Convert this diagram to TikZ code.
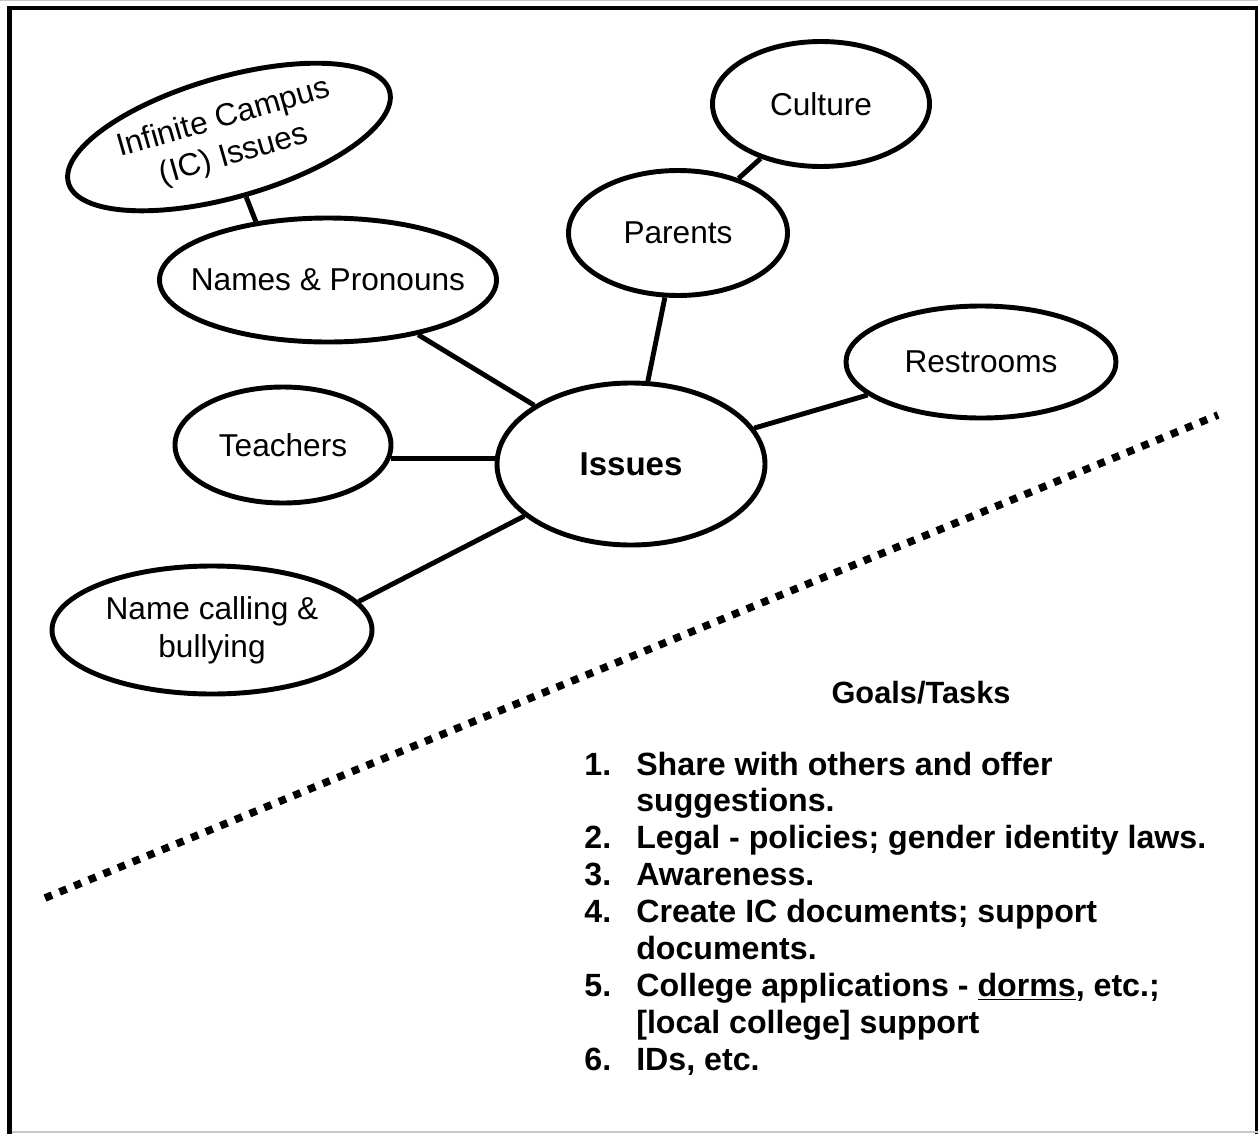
\documentclass[tikz,border=0pt]{standalone}
\usepackage{fontspec}
\setmainfont{Liberation Sans}
\usepackage{tikz}
\usetikzlibrary{shapes.geometric,positioning}
\tikzset{
	bubble/.style={draw,ellipse,line width=2.8pt,inner sep=0pt},
	bubbletext/.style={font=\fontsize{18}{21.5}\selectfont,align=center,inner sep=0pt},
	goaltext/.style={font=\bfseries\fontsize{18.3}{21}\selectfont,inner sep=0pt},
}

\begin{document}
\begin{tikzpicture}[x=0.02cm,y=-0.02cm,line width=2.8pt]
	\useasboundingbox (0,0) rectangle (1258,1133);
	\begin{scope}
		\clip (0,0) rectangle (1258,1133);
		\draw (9.5,8) rectangle (1257,1160);
	\end{scope}
	\draw[gray!45,line width=0.8pt] (0,0.7) -- (1258,0.7);
	\draw[gray!45,line width=0.8pt] (12,1132) -- (1258,1132);
	\foreach \name/\px/\py/\w/\h/\rot/\txt in {%
		issues/631/464/268/162/0/{\fontsize{18.8}{21}\selectfont\bfseries Issues},%
		teachers/283/445/216/116/0/{Teachers},%
		names/328/280/337/124/0/{Names \& Pronouns},%
		ic/229/137/334/120/16/{Infinite Campus\\(IC) Issues},%
		parents/678/233/219/125/0/{Parents},%
		culture/821/104/217/125/0/{Culture},%
		restrooms/981/362/270/112/0/{Restrooms},%
		calling/212/630/320/128/0/{Name calling \&\\bullying}%
		} {%
		\node[bubble,minimum width=\w*0.02cm,minimum height=\h*0.02cm,rotate=\rot,
		label={[bubbletext,rotate=\rot]center:\txt}] (\name) at (\px,\py) {};%
	}
	\foreach \a/\b in {issues/names,issues/parents,issues/restrooms,parents/culture}
		\draw (\a) -- (\b);
	\draw (ic.south) -- (names.141);
	\draw (issues.206) -- (calling.11);
	\draw (teachers.-7) -- (teachers.-7 -| issues.west);
	\draw[line width=4.3pt,dash pattern=on 4.3pt off 4.7pt] (45,898) -- (1218,415);
	\node[goaltext,font=\bfseries\fontsize{17.5}{21}\selectfont,anchor=base] (goals) at (921,703) {Goals/Tasks};
	\node[goaltext,anchor=base west] (tasks) at (582,775) {%
		\begin{tabular}[t]{@{}p{29.5pt}@{}l@{}}
			1. & Share with others and offer\\
			   & suggestions.\\
			2. & Legal - policies; gender identity laws.\\
			3. & Awareness.\\
			4. & Create IC documents; support\\
			   & documents.\\
			5. & College applications - \underline{dorms}, etc.;\\
			   & [local college] support\\
			6. & IDs, etc.
		\end{tabular}};
\end{tikzpicture}
\end{document}
